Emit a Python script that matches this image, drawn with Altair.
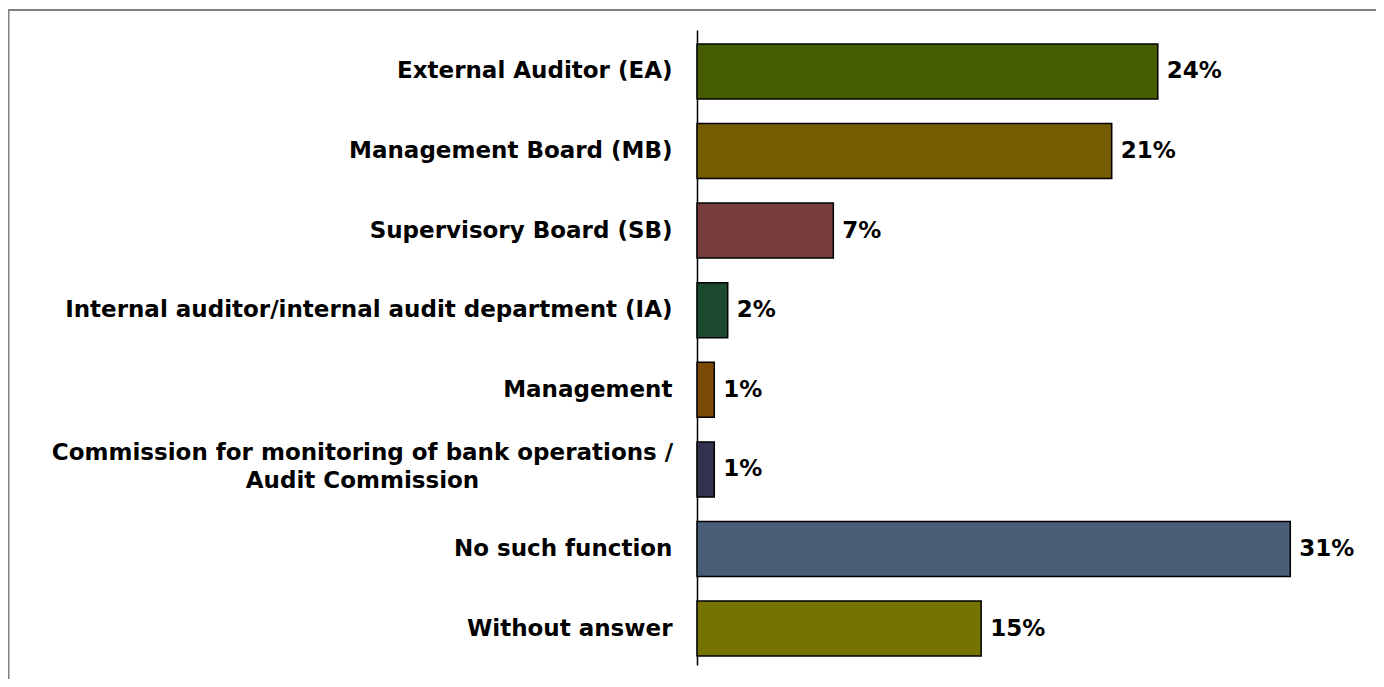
import altair as alt
import pandas as pd

categories = [
    "External Auditor (EA)",
    "Management Board (MB)",
    "Supervisory Board (SB)",
    "Internal auditor/internal audit department (IA)",
    "Management",
    "Commission for monitoring of bank operations /|Audit Commission",
    "No such function",
    "Without answer",
]
values = [24.0, 21.6, 7.1, 1.6, 0.9, 0.9, 30.9, 14.8]
value_labels = ["24%", "21%", "7%", "2%", "1%", "1%", "31%", "15%"]
colors = ["#465C00", "#765C00", "#773D3D", "#1B4A30", "#7A4A05", "#33334F", "#4A5E78", "#777300"]

df = pd.DataFrame({"category": categories, "value": values, "label": value_labels})

FONT = "DejaVu Sans"
FS = 23
multi = "indexof(datum.value, '|') >= 0"

y = alt.Y(
    "category:N",
    sort=categories,
    scale=alt.Scale(paddingInner=0.309, paddingOuter=0.143, align=0.61),
    axis=alt.Axis(
        title=None,
        domain=True,
        domainColor="#000000",
        domainWidth=1.5,
        ticks=False,
        grid=False,
        labelPadding={"condition": {"test": multi, "value": 335}, "value": 25},
        labelAlign={"condition": {"test": multi, "value": "center"}, "value": "right"},
        labelOffset={"condition": {"test": multi, "value": -16}, "value": 0},
        labelFont=FONT,
        labelFontWeight="bold",
        labelFontSize=FS,
        labelColor="#000000",
        labelLimit=1000,
        labelLineHeight=28,
        labelExpr="split(datum.label, '|')",
    ),
)
x = alt.X("value:Q", scale=alt.Scale(domain=[0, 35]), axis=None)

bars = alt.Chart(df).mark_bar(stroke="#000000", strokeWidth=1.5).encode(
    x=x,
    y=y,
    color=alt.Color("category:N", scale=alt.Scale(domain=categories, range=colors), legend=None),
)

texts = alt.Chart(df).mark_text(
    align="left", baseline="middle", dx=9, font=FONT, fontWeight="bold", fontSize=FS, color="#000000"
).encode(x=x, y=y, text="label:N")

frame = alt.Chart(alt.Data(values=[{"a": 1}])).mark_rect(
    filled=False, stroke="#808080", strokeWidth=2
).encode(
    x=alt.value(-688.5), y=alt.value(-20), x2=alt.value(1200), y2=alt.value(1200)
)

chart = alt.layer(bars, texts, frame).properties(
    width=672,
    height=635,
    autosize=alt.AutoSizeParams(type="none"),
    padding={"left": 689, "top": 22, "right": 7, "bottom": 14},
    background="#ffffff",
).configure_view(stroke=None)

chart.save("out.html", embed_options={"renderer": "svg", "actions": False})
